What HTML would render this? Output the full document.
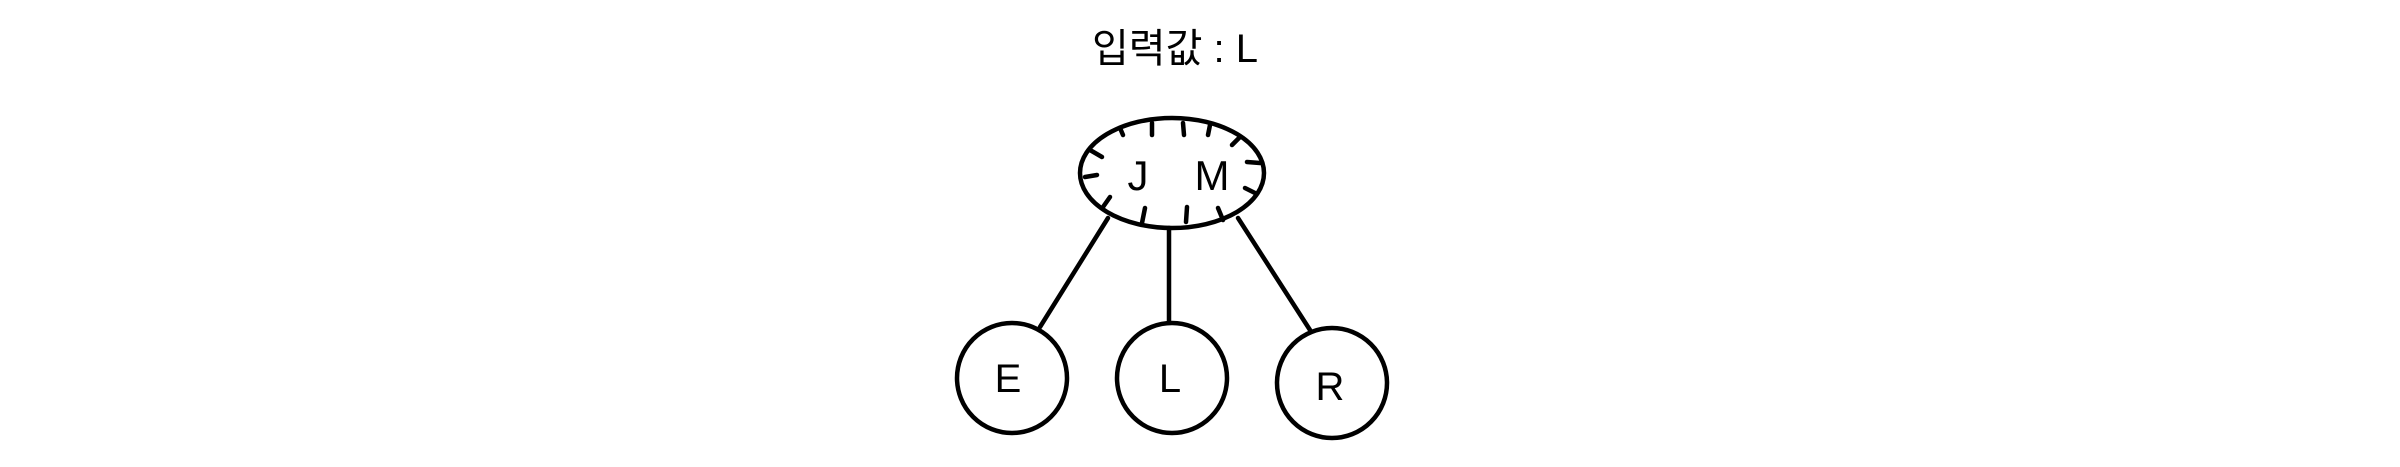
<!DOCTYPE html>
<html><head><meta charset="utf-8"><style>
html,body{margin:0;padding:0;background:#fff;}
svg{display:block;}
text{font-family:"Liberation Sans","Noto Sans CJK KR",sans-serif;fill:#000;}
</style></head><body>
<svg width="2400" height="467" viewBox="0 0 2400 467" xmlns="http://www.w3.org/2000/svg">
<g fill="none" stroke="#000" stroke-width="4.5" stroke-linecap="round">
<ellipse cx="1172" cy="173" rx="92" ry="55"/>
<line x1="1120" y1="128" x2="1123" y2="135"/>
<line x1="1152" y1="123" x2="1152" y2="135"/>
<line x1="1183" y1="123" x2="1184" y2="135"/>
<line x1="1210" y1="125" x2="1208" y2="135"/>
<line x1="1240" y1="137" x2="1232" y2="145"/>
<line x1="1090" y1="150" x2="1102" y2="157"/>
<line x1="1085" y1="177" x2="1097" y2="175"/>
<line x1="1247" y1="162" x2="1260" y2="163"/>
<line x1="1245" y1="188" x2="1255" y2="193"/>
<line x1="1110" y1="197" x2="1103" y2="207"/>
<line x1="1145" y1="208" x2="1142" y2="223"/>
<line x1="1187" y1="207" x2="1186" y2="222"/>
<line x1="1218" y1="208" x2="1223" y2="220"/>
<line x1="1108" y1="218" x2="1040" y2="327"/>
<line x1="1169" y1="228" x2="1169" y2="322"/>
<line x1="1238" y1="218" x2="1310" y2="330"/>
<circle cx="1012" cy="378" r="55"/>
<circle cx="1172" cy="378" r="55"/>
<circle cx="1332" cy="383" r="55"/>
</g>
<text x="1175" y="62" font-size="40" text-anchor="middle">입력값 : L</text>
<text x="1138" y="190" font-size="42" text-anchor="middle">J</text>
<text x="1212" y="190" font-size="42" text-anchor="middle">M</text>
<text x="1008" y="392" font-size="40" text-anchor="middle">E</text>
<text x="1170" y="392" font-size="40" text-anchor="middle">L</text>
<text x="1330" y="400" font-size="40" text-anchor="middle">R</text>
</svg>
</body></html>
